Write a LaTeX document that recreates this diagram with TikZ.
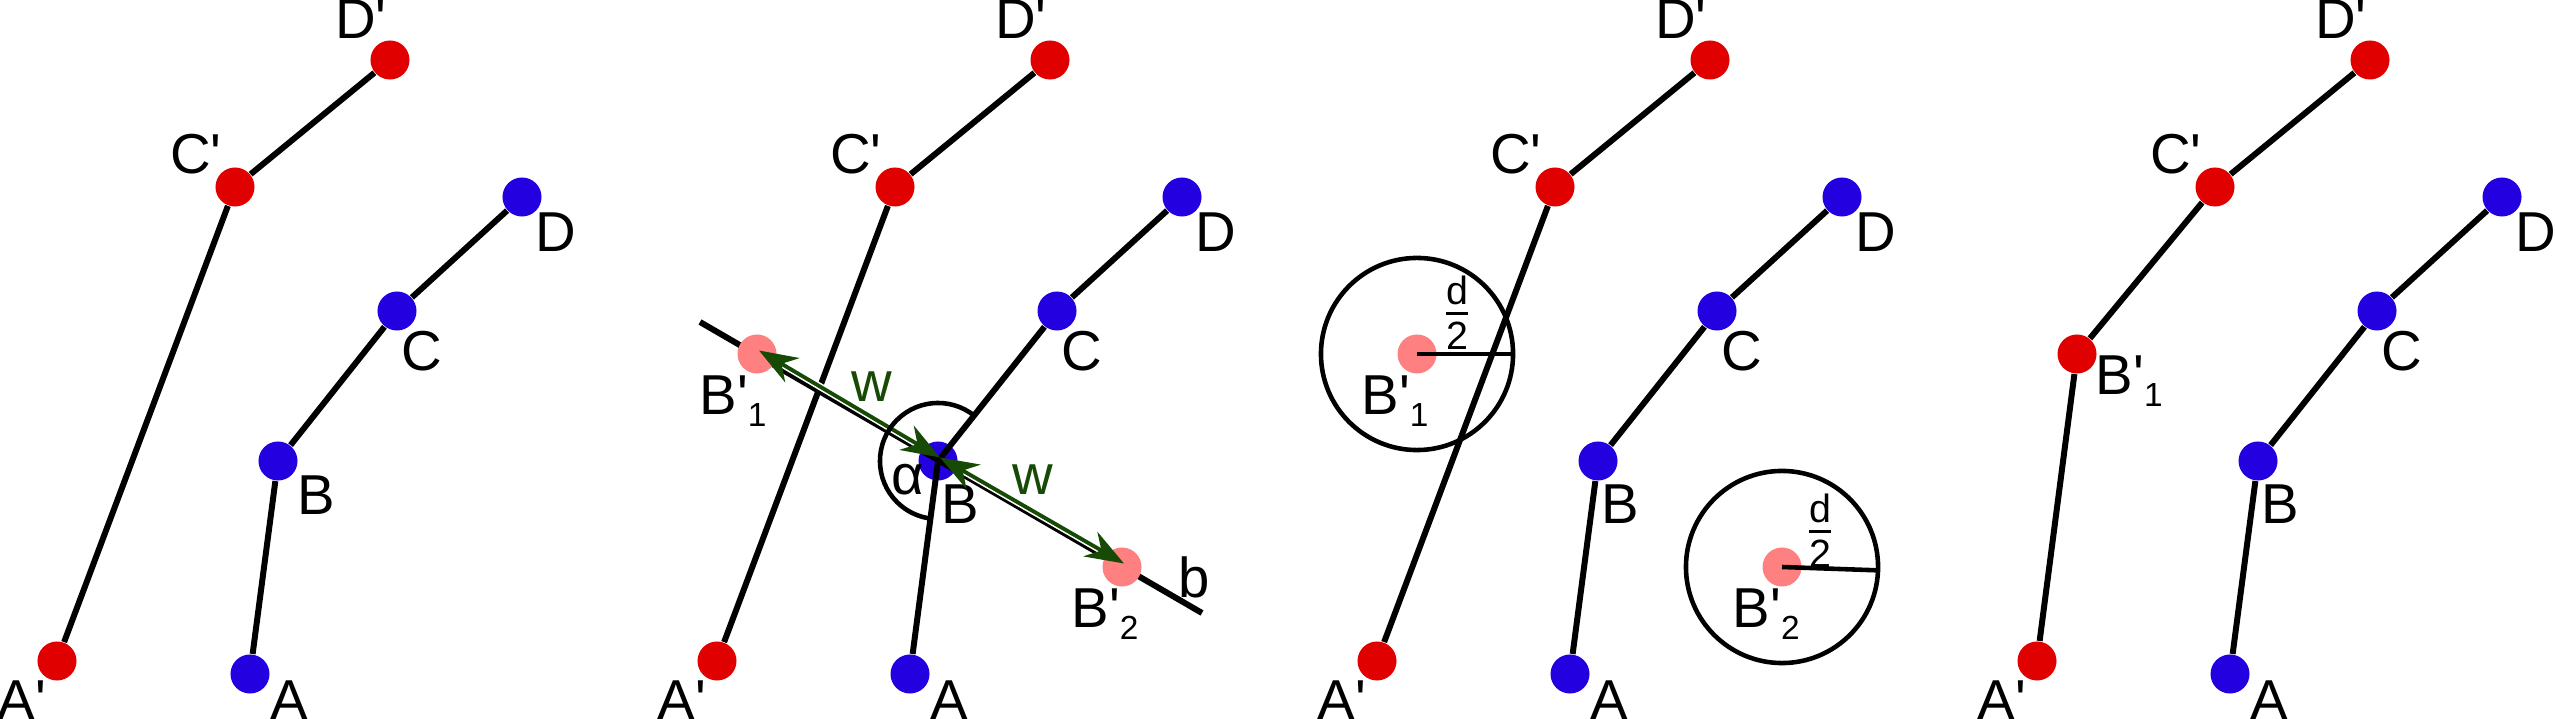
\documentclass[tikz,border=0pt]{standalone}
\usepackage{amsmath}
\usepackage{fontspec}
\setmainfont{Liberation Sans}
\usetikzlibrary{arrows.meta}
\definecolor{rot}{HTML}{E00000}
\definecolor{blau}{HTML}{2200E0}
\definecolor{rosa}{HTML}{FF8080}
\definecolor{gruen}{HTML}{174A05}

\newcommand{\strich}{\textquotesingle}
\newcommand{\idx}[1]{\raisebox{-0.21em}{\fontsize{9.5}{11}\selectfont #1}}

\tikzset{
  dot/.style={circle, inner sep=0pt, minimum size=0.39cm},
  bdot/.style={dot, fill=blau},
  rdot/.style={dot, fill=rot},
  pdot/.style={dot, fill=rosa},
  seg/.style={line width=1.7pt},
  kreis/.style={line width=1.3pt},
  lab/.style={inner sep=0pt, anchor=base, font=\fontsize{16}{19}\selectfont},
  wpfeil/.style={gruen, line width=1.1pt,
    {Stealth[length=11pt,width=8pt]}-{Stealth[length=11pt,width=8pt]}},
  halo/.style={white, line width=2pt, shorten <=6pt, shorten >=6pt},
}

\begin{document}
\begin{tikzpicture}[x=0.01cm, y=-0.01cm]
  \useasboundingbox (0,0) rectangle (2555,719);

  % Punkte und Namen, in allen vier Bildern gleich
  \foreach \i/\dx/\bx/\by in {1/0/316/515, 2/660/300/524, 3/1320/300/524, 4/1980/300/524} {
    \begin{scope}[shift={(\dx,0)}]
      \node[rdot] (Ap\i) at (57,661) {};
      \node[rdot] (Cp\i) at (235,187) {};
      \node[rdot] (Dp\i) at (390,60) {};
      \node[bdot] (A\i) at (250,674) {};
      \node[bdot] (B\i) at (278,461) {};
      \node[bdot] (C\i) at (397,311) {};
      \node[bdot] (D\i) at (522,197) {};
      \node[lab] (ApL\i) at (22,719) {A\strich};
      \node[lab] (CpL\i) at (196,174) {C\strich};
      \node[lab] (DpL\i) at (361,39) {D\strich};
      \node[lab] (AL\i) at (289,719) {A};
      \node[lab] (BL\i) at (\bx,\by) {B};
      \node[lab] (CL\i) at (422,371) {C};
      \node[lab] (DL\i) at (556,252) {D};
    \end{scope}
  }

  % Bild 1 und 3: Ketten
  \foreach \i in {1,3} {
    \draw[seg] (Ap\i) -- (Cp\i) -- (Dp\i);
    \draw[seg] (A\i) -- (B\i) -- (C\i) -- (D\i);
  }

  % Bild 2: Gerade b, die zwei Kandidaten und der Winkel
  \draw[seg] (Ap2) -- (Cp2) -- (Dp2);
  \draw[seg] (A2) -- (B2.center) -- (C2) -- (D2);
  \coordinate (bAnf) at (700,322);
  \coordinate (bEnd) at (1202,613);
  \draw[seg] (bAnf) -- (bEnd);
  \node[pdot] (B1p2) at (757,354) {};
  \node[pdot] (B2p2) at (1122,567) {};
  \draw[halo] ([shift={(2,-3.5)}]B1p2.center) -- ([shift={(2,-3.5)}]B2.center);
  \draw[halo] ([shift={(2,-3.5)}]B2.center) -- ([shift={(2,-3.5)}]B2p2.center);
  \draw[wpfeil] ([shift={(2,-3.5)}]B1p2.center) -- ([shift={(2,-3.5)}]B2.center);
  \draw[wpfeil] ([shift={(2,-3.5)}]B2.center) -- ([shift={(2,-3.5)}]B2p2.center);
  \draw[kreis] ([shift={(51:0.58cm)}]B2.center) arc[start angle=51, end angle=262.5, radius=0.58cm];
  \node[lab, gruen] (w1) at (872,402) {w};
  \node[lab, gruen] (w2) at (1033,495) {w};
  \node[lab] (alpha) at (908,495) {α};
  \node[lab] (bL) at (1194,598) {b};
  \node[lab, anchor=base west] (B1L2) at (699,415) {B\strich\idx{1}};
  \node[lab, anchor=base west] (B2L2) at (1071,628) {B\strich\idx{2}};

  % Bild 3: Kreise mit Radius d/2
  \node[pdot] (B1p3) at (1417,354) {};
  \node[pdot] (B2p3) at (1782,567) {};
  \draw[kreis] (B1p3.center) circle[radius=0.96cm];
  \draw[kreis] (B1p3.center) -- ++(0:0.96cm);
  \draw[kreis] (B2p3.center) circle[radius=0.96cm];
  \draw[kreis] (B2p3.center) -- ++(-2:0.96cm);
  \node[inner sep=0pt, font=\fontsize{16}{19}\selectfont] (h1) at (1457,313)
    {$\genfrac{}{}{0.8pt}{1}{\text{d}}{\text{2}}$};
  \node[inner sep=0pt, font=\fontsize{16}{19}\selectfont] (h2) at (1820,531)
    {$\genfrac{}{}{0.8pt}{1}{\text{d}}{\text{2}}$};
  \node[lab, anchor=base west] (B1L3) at (1361,415) {B\strich\idx{1}};
  \node[lab, anchor=base west] (B2L3) at (1732,628) {B\strich\idx{2}};

  % Bild 4: B'1 ersetzt die Kette A'C'
  \node[rdot] (B1p4) at (2077,354) {};
  \draw[seg] (Ap4) -- (B1p4) -- (Cp4) -- (Dp4);
  \draw[seg] (A4) -- (B4) -- (C4) -- (D4);
  \node[lab, anchor=base west] (B1L4) at (2095,395) {B\strich\idx{1}};
\end{tikzpicture}
\end{document}
